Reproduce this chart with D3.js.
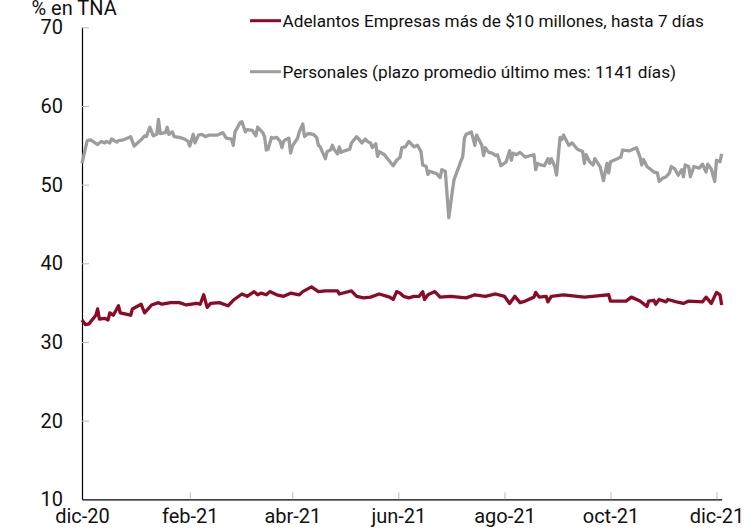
<!DOCTYPE html>
<html>
<head>
<meta charset="utf-8">
<script src="https://cdn.jsdelivr.net/npm/d3@7"></script>
<style>
  body { margin: 0; background: #fff; }
  text { font-family: Roboto, "Noto Sans", sans-serif; fill: #111; }
</style>
</head>
<body>
<svg id="chart"></svg>
<script>
// days counted from 1-dic-2020
var baseDate = new Date(2020, 11, 1);

var gris_dias = [0,3,5,9,11,13,14,16,17,20,21,24,28,30,34,36,37,39,41,43,44,45,48,49,50,52,53,56,59,61,62,64,65,67,69,71,73,78,81,83,86,87,88,91,92,94,95,98,100,101,104,105,106,107,109,110,112,114,115,116,117,119,120,121,124,125,127,128,130,133,135,136,137,140,141,143,144,145,147,148,149,151,154,155,158,160,161,163,164,166,167,169,170,171,174,179,181,183,184,186,188,191,193,195,196,198,199,200,204,206,207,209,211,213,214,218,219,220,221,224,226,227,230,231,232,234,236,238,239,241,244,246,247,248,250,252,255,258,260,261,262,264,266,268,269,270,272,273,275,276,277,280,282,285,288,289,290,292,294,295,298,300,302,303,304,308,310,311,315,319,321,322,323,325,329,331,332,334,336,338,339,341,343,345,346,347,349,350,352,355,357,359,360,362,364,365,367,368];
var gris_tasa = [52.7,55.6,55.7,55.1,55.5,55.3,55.5,55.3,55.8,55.4,55.6,55.7,56.1,54.9,55.7,56.2,56.1,57.3,56.2,56.4,58.3,56.5,56.6,57.3,56.4,56.7,56.1,56.0,55.8,55.5,54.9,56.4,55.3,56.3,56.4,56.1,56.3,56.3,56.6,55.9,55.8,55.0,56.7,57.9,58.0,56.7,57.0,56.9,56.2,57.3,56.6,56.1,54.4,54.5,56.0,55.9,56.0,55.5,54.7,55.5,55.7,55.9,54.0,54.9,55.9,56.7,57.7,56.1,56.5,56.4,56.0,55.0,54.8,53.3,54.2,54.4,55.0,54.5,53.9,54.8,54.1,54.3,54.5,55.3,56.1,55.6,55.3,55.8,55.5,55.3,54.7,55.2,53.6,54.2,53.8,52.4,53.1,53.5,54.7,54.8,55.5,54.8,55.0,54.2,52.5,52.3,51.3,51.7,51.4,50.9,51.9,51.7,45.8,49.1,50.6,53.0,53.5,55.9,56.4,56.7,55.0,56.3,55.0,53.7,54.7,54.1,54.0,53.7,53.8,52.4,52.9,54.3,53.1,54.0,53.8,54.1,53.5,53.7,53.8,51.9,52.7,52.5,52.4,53.3,52.7,53.3,52.3,51.2,56.0,55.7,56.3,55.0,55.3,54.5,54.2,52.7,53.8,52.9,52.5,53.3,52.3,50.5,52.7,51.5,52.9,53.3,53.5,54.4,54.3,54.7,53.5,52.5,53.2,52.3,51.6,51.5,50.4,50.8,51.0,51.5,52.3,52.0,51.2,51.9,51.0,52.5,52.3,51.0,52.3,52.1,52.6,51.6,52.6,52.0,50.4,53.1,52.9,53.9,54.9];

var rojo_dias = [0,2,4,8,9,10,13,15,16,18,21,22,28,29,34,36,40,44,46,51,56,60,66,68,70,72,74,79,84,87,92,95,99,101,103,106,108,112,116,120,125,127,132,136,140,147,148,155,158,162,166,171,177,179,181,183,185,188,191,194,196,197,199,203,206,212,221,226,232,238,243,246,249,252,255,260,261,263,267,268,270,277,285,289,298,303,304,313,316,321,325,326,329,330,332,336,337,342,346,349,357,359,362,365,367,368];
var rojo_tasa = [32.8,32.2,32.3,33.4,34.2,32.9,33.0,32.8,33.7,33.4,34.6,33.7,33.4,34.2,34.8,33.7,34.7,35.0,34.8,35.0,35.0,34.7,34.9,34.8,36.0,34.4,34.9,35.0,34.6,35.3,36.1,35.8,36.4,36.0,36.2,36.0,36.4,36.0,35.8,36.2,36.0,36.4,37.0,36.4,36.5,36.5,36.1,36.5,35.8,35.6,35.7,36.1,35.7,35.4,36.4,36.2,35.8,35.6,35.8,35.8,36.4,35.4,36.0,36.4,35.7,35.8,35.6,36.0,35.8,36.1,35.8,34.9,35.8,35.0,35.2,35.7,36.3,35.7,35.8,35.1,35.8,36.0,35.8,35.7,35.9,36.0,35.2,35.2,35.7,35.2,34.5,35.2,35.3,34.8,35.4,35.1,35.4,35.1,34.9,35.2,35.1,35.7,34.9,36.3,36.0,34.7];

var xTicks = ["2020-12-01","2021-02-01","2021-04-01","2021-06-01","2021-08-01","2021-10-01","2021-12-01"];
var yTicks = [10,20,30,40,50,60,70];
var meses = ["ene","feb","mar","abr","may","jun","jul","ago","sep","oct","nov","dic"];

var series = [
  {nombre: "Adelantos Empresas más de $10 millones, hasta 7 días", dias: rojo_dias, tasa: rojo_tasa, color: "#8c0a26"},
  {nombre: "Personales (plazo promedio último mes: 1141 días)", dias: gris_dias, tasa: gris_tasa, color: "#9d9d9d"}
];

var width = 753, height = 532;
var svg = d3.select("#chart").attr("width", width).attr("height", height);

var x = d3.scaleTime()
  .domain([baseDate, d3.timeDay.offset(baseDate, 368)])
  .range([82, 721.7]);
var y = d3.scaleLinear().domain([10, 70]).range([499.3, 27.3]);

// x axis
var xAxis = d3.axisBottom(x)
  .tickValues(xTicks.map(function(s){ return d3.timeParse("%Y-%m-%d")(s); }))
  .tickSize(0).tickPadding(12)
  .tickFormat(function(d){ return meses[d.getMonth()] + "-" + d3.timeFormat("%y")(d); });
var gx = svg.append("g").attr("transform", "translate(0," + y(10) + ")").call(xAxis);
gx.select(".domain").attr("stroke", "#000").attr("stroke-width", 1.2);
gx.selectAll(".tick text").attr("font-size", 20).attr("font-family", "Roboto").attr("dy", "0.6em").attr("fill", "#111");
gx.selectAll(".tick").filter(function(d, i){ return i > 0; })
  .append("line").attr("y1", 0).attr("y2", -7).attr("stroke", "#bbb").attr("stroke-width", 1);

// y axis
var yAxis = d3.axisLeft(y).tickValues(yTicks).tickSize(0).tickPadding(19);
var gy = svg.append("g").attr("transform", "translate(" + x.range()[0] + ",0)").call(yAxis);
gy.select(".domain").attr("stroke", "#000").attr("stroke-width", 1.2);
gy.selectAll(".tick text").attr("font-size", 20).attr("font-family", "Roboto").attr("fill", "#111");
gy.selectAll(".tick").filter(function(d){ return d > 10; })
  .append("line").attr("x1", 0).attr("x2", 7).attr("stroke", "#bbb").attr("stroke-width", 1);

svg.append("text").attr("x", 31.5).attr("y", 14.5).attr("font-size", 20).text("% en TNA");

// lines
var line = d3.line()
  .x(function(d){ return x(d3.timeDay.offset(baseDate, d[0])); })
  .y(function(d){ return y(d[1]); });

series.slice().reverse().forEach(function(s){
  var pts = s.dias.map(function(d, i){ return [d, s.tasa[i]]; });
  svg.append("path").datum(pts)
    .attr("fill", "none").attr("stroke", s.color)
    .attr("stroke-width", 3.3).attr("stroke-linejoin", "round")
    .attr("d", line);
});

// legend
var leg = svg.append("g");
series.forEach(function(s, i){
  var yy = 20.7 + i * 51;
  leg.append("line").attr("x1", 250).attr("x2", 281).attr("y1", yy).attr("y2", yy)
    .attr("stroke", s.color).attr("stroke-width", 3);
  leg.append("text").attr("x", 282.5).attr("y", yy).attr("dy", "0.35em")
    .attr("font-size", 17.2).text(s.nombre);
});
</script>
</body>
</html>
